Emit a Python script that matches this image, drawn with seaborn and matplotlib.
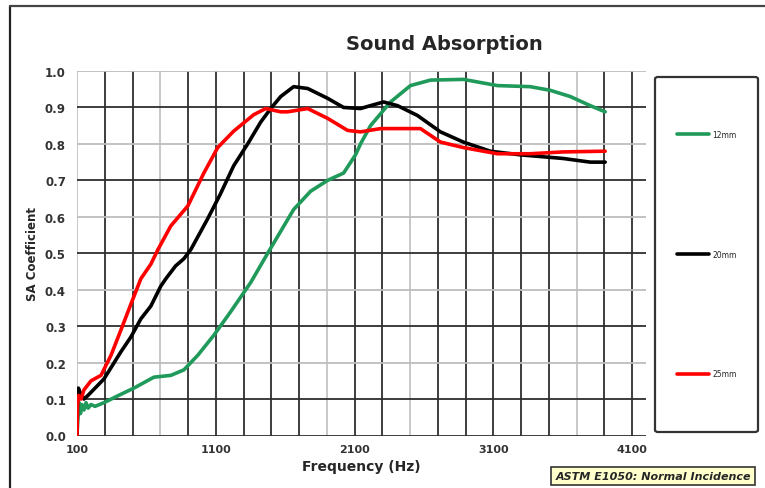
import numpy as np
import pandas as pd
import matplotlib
matplotlib.use("Agg")
import matplotlib.pyplot as plt
from matplotlib.lines import Line2D
from matplotlib.patches import FancyBboxPatch
import seaborn as sns

# ------------------- données -------------------
freq_12 = [100, 107, 115, 125, 135, 150, 165, 180, 201, 230, 294, 400, 510, 654,
           776, 870, 970, 1086, 1208, 1352, 1474, 1661, 1783, 1906, 2021, 2107,
           2143, 2215, 2359, 2503, 2647, 2884, 3129, 3366, 3510, 3654, 3798, 3906]
sa_12 = [0.0, 0.05, 0.09, 0.06, 0.085, 0.07, 0.09, 0.075, 0.085, 0.08, 0.09, 0.11,
         0.13, 0.16, 0.165, 0.18, 0.22, 0.275, 0.34, 0.42, 0.50, 0.62, 0.67, 0.70,
         0.72, 0.77, 0.80, 0.85, 0.915, 0.96, 0.975, 0.977, 0.96, 0.957, 0.947,
         0.93, 0.905, 0.888]

freq_20 = [100, 104, 110, 120, 150, 179, 294, 417, 488, 560, 632, 704, 740, 810,
           870, 920, 1042, 1130, 1229, 1330, 1424, 1496, 1568, 1661, 1762, 1906,
           2021, 2143, 2215, 2309, 2409, 2553, 2719, 2884, 3078, 3294, 3603, 3798, 3906]
sa_20 = [0.0, 0.09, 0.13, 0.12, 0.10, 0.11, 0.155, 0.23, 0.27, 0.32, 0.355, 0.41,
         0.43, 0.465, 0.485, 0.51, 0.595, 0.66, 0.74, 0.80, 0.86, 0.897, 0.93,
         0.957, 0.952, 0.925, 0.90, 0.897, 0.905, 0.915, 0.905, 0.878, 0.833,
         0.805, 0.78, 0.77, 0.76, 0.75, 0.75]

freq_25 = [100, 103, 110, 129, 150, 201, 273, 345, 417, 488, 560, 632, 683, 776,
           899, 1014, 1114, 1229, 1373, 1460, 1568, 1618, 1762, 1906, 2050, 2143,
           2287, 2575, 2719, 2884, 3129, 3366, 3603, 3906]
sa_25 = [0.0, 0.08, 0.11, 0.10, 0.125, 0.15, 0.165, 0.22, 0.29, 0.36, 0.43, 0.47,
         0.51, 0.575, 0.63, 0.72, 0.79, 0.835, 0.88, 0.897, 0.888, 0.888, 0.897,
         0.87, 0.837, 0.833, 0.842, 0.842, 0.805, 0.79, 0.773, 0.773, 0.778, 0.78]

series_names = ["12mm", "20mm", "25mm"]
series_colors = ["#1f9a5a", "#000000", "#ff0000"]

x_ticks = [100, 1100, 2100, 3100, 4100]
y_ticks = [0.0, 0.1, 0.2, 0.3, 0.4, 0.5, 0.6, 0.7, 0.8, 0.9, 1.0]

df = pd.concat([
    pd.DataFrame({"freq": freq_12, "sa": sa_12, "serie": "12mm"}),
    pd.DataFrame({"freq": freq_20, "sa": sa_20, "serie": "20mm"}),
    pd.DataFrame({"freq": freq_25, "sa": sa_25, "serie": "25mm"}),
])

# ------------------- figure -------------------
sns.set_style("white")
plt.rcParams["font.family"] = ["DejaVu Sans"]

fig = plt.figure(figsize=(7.65, 4.89), dpi=100)
ax = fig.add_axes([77 / 765, 1 - 436.5 / 489, (646 - 77) / 765, (436.5 - 72) / 489])

# grille : lignes foncées / claires comme dans l'original
light_v = [100, 700, 1900, 2500, 3700]
for xv in np.arange(100, 4101, 200):
    c = "#c4c4c4" if xv in light_v else "#2e2e2e"
    ax.axvline(xv, color=c, lw=1.3, zorder=0)
for i, yv in enumerate(y_ticks):
    c = "#2e2e2e" if i % 2 == 1 or i == 0 else "#bdbdbd"
    ax.axhline(yv, color=c, lw=1.3, zorder=0)

sns.lineplot(data=df, x="freq", y="sa", hue="serie", palette=series_colors,
             hue_order=series_names, lw=2.6, sort=False, estimator=None,
             legend=False, ax=ax, zorder=3)

ax.set_xlim(100, 4200)
ax.set_ylim(0, 1.0)
ax.set_xticks(x_ticks)
ax.set_xticklabels([str(v) for v in x_ticks], fontsize=8, fontweight="bold", color="#333333")
ax.set_yticks(y_ticks)
ax.set_yticklabels([f"{v:.1f}" for v in y_ticks], fontsize=8.5, fontweight="bold", color="#333333")
ax.tick_params(axis="y", length=5, width=1.3, color="#555555", pad=3)
ax.tick_params(axis="x", length=0, pad=6)
for s in ax.spines.values():
    s.set_visible(False)

ax.set_xlabel("Frequency (Hz)", fontsize=10, fontweight="bold", labelpad=4)
ax.set_ylabel("SA Coefficient", fontsize=8.5, fontweight="bold", labelpad=4)
fig.text(444 / 765, 1 - 45 / 489, "Sound Absorption", fontsize=14, fontweight="bold",
         ha="center", va="center")

# cadre extérieur
fig.add_artist(Line2D([10 / 765, 10 / 765], [0, 1 - 7 / 489], color="#222222", lw=1.6))
fig.add_artist(Line2D([10 / 765, 1], [1 - 7 / 489, 1 - 7 / 489], color="#444444", lw=1.6))

# boîte de légende
box = FancyBboxPatch((655 / 765, 1 - 433 / 489), (758 - 655) / 765, (433 - 78) / 489,
                     boxstyle="round,pad=0,rounding_size=0.004", transform=fig.transFigure,
                     facecolor="white", edgecolor="#333333", lw=1.6)
fig.add_artist(box)
handles = [Line2D([], [], color=c, lw=2.6) for c in series_colors]
fig.legend(handles, series_names, loc="center", bbox_to_anchor=(707 / 765, 1 - 255 / 489),
           frameon=False, fontsize=5.5, labelspacing=14.5, handlelength=4.2,
           handletextpad=0.4, borderpad=0)

# note en bas à droite
fig.text(653 / 765, 1 - 477 / 489, "ASTM E1050: Normal Incidence", fontsize=8,
         fontweight="bold", fontstyle="italic", ha="center", va="center",
         bbox=dict(boxstyle="square,pad=0.35", facecolor="#ffffcc", edgecolor="#333333", lw=1.2))

plt.savefig("out.png", dpi=100)
